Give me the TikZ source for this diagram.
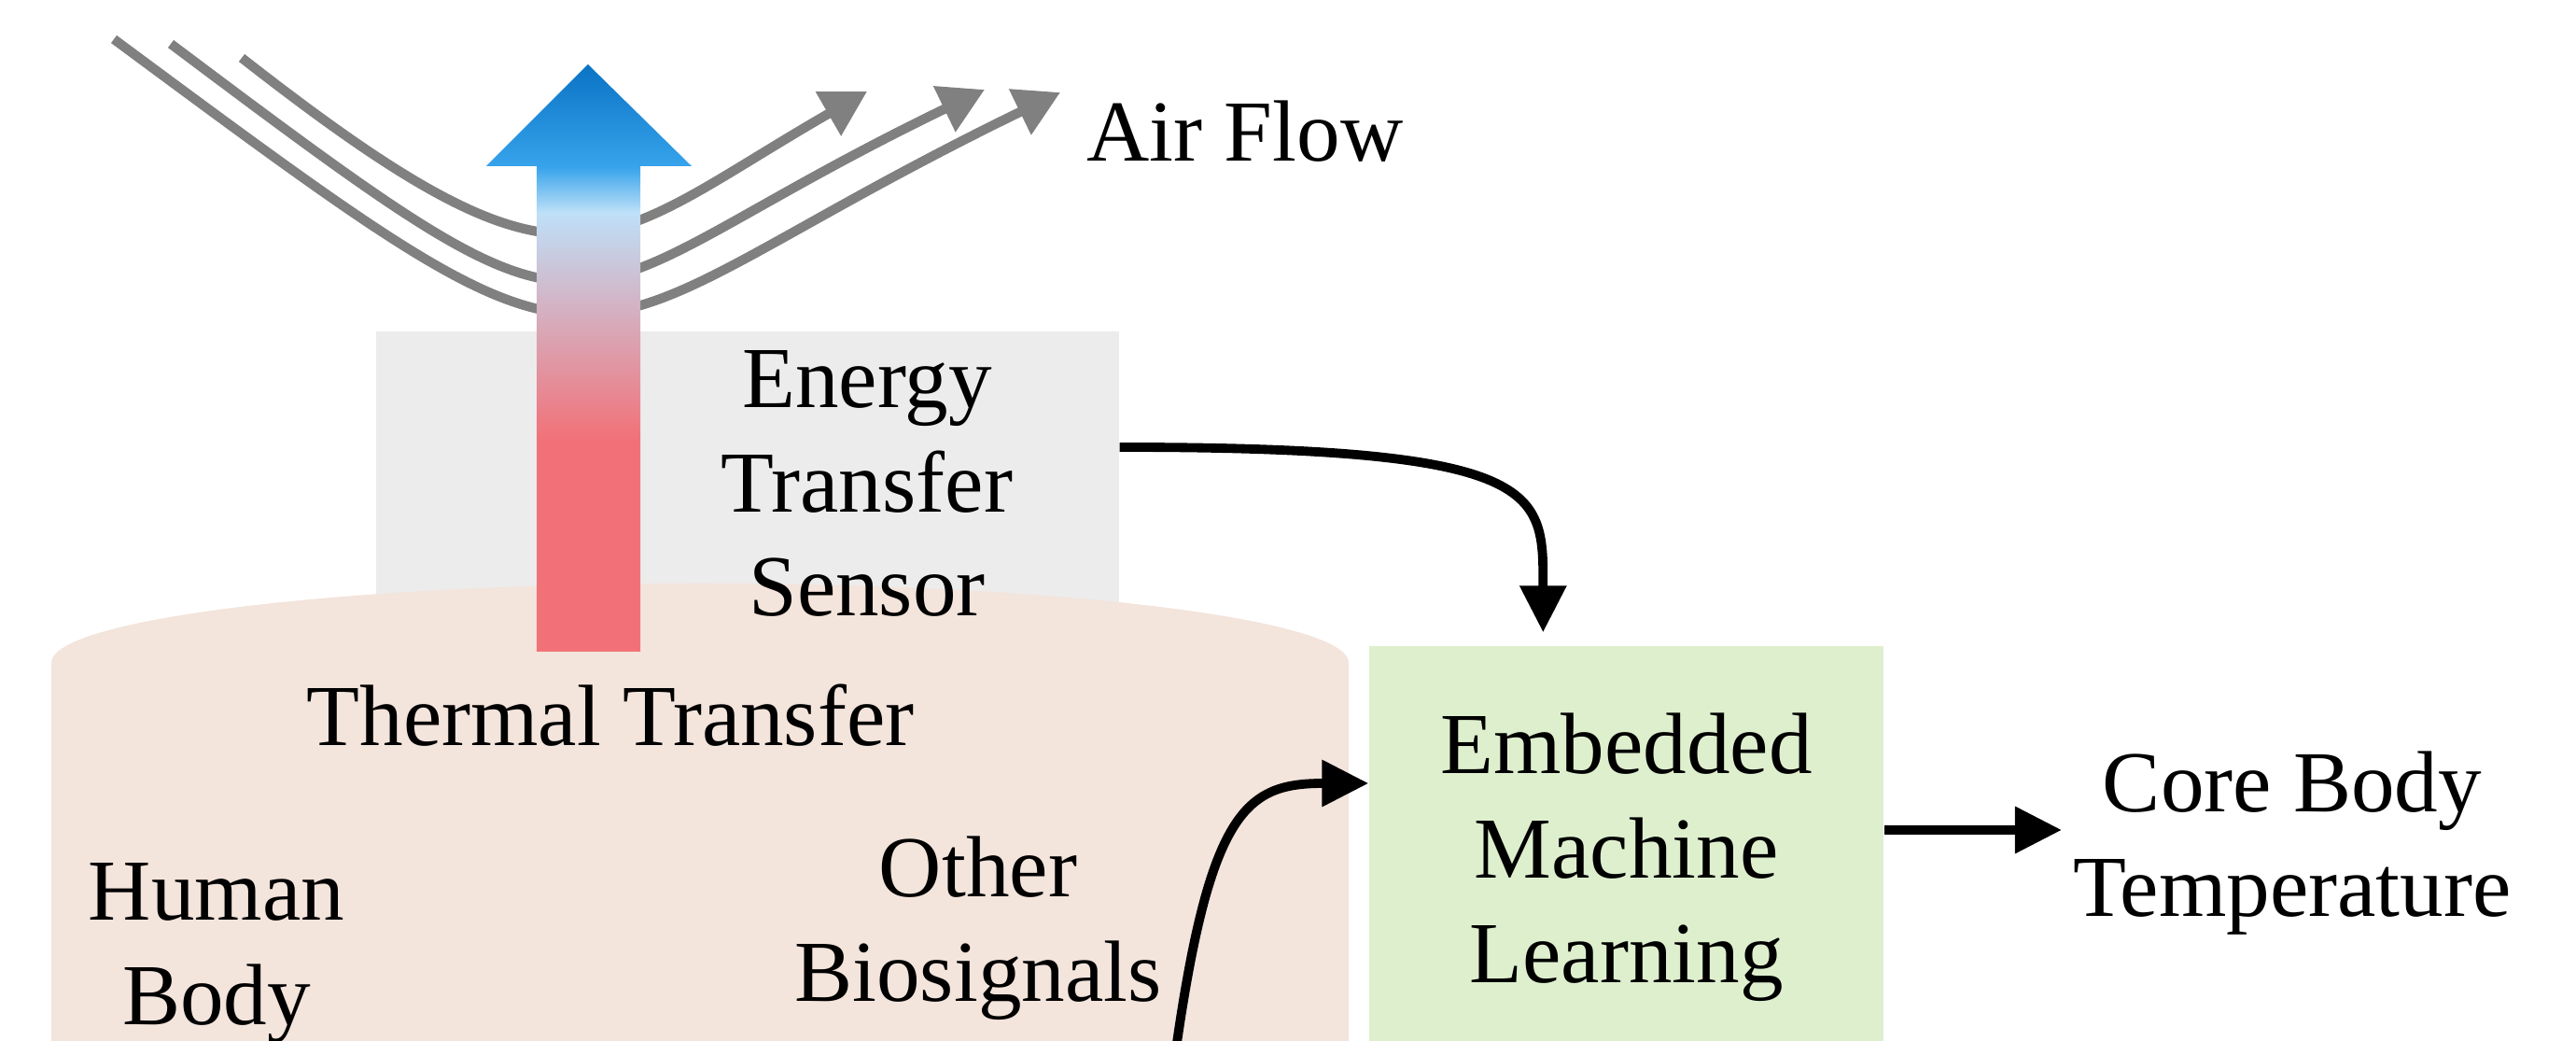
\documentclass[tikz,border=0pt]{standalone}
\usepackage{fontspec}
\setmainfont{Liberation Serif}
\usepackage{tikz}
\usetikzlibrary{arrows.meta,calc}

\definecolor{airgray}{HTML}{808080}
\definecolor{sensorgray}{HTML}{ECECEC}
\definecolor{skin}{HTML}{F3E4DC}
\definecolor{mlgreen}{HTML}{DEEFCE}
\definecolor{deepblue}{HTML}{0A73C5}
\definecolor{coolblue}{HTML}{36A3EB}
\definecolor{coolpale}{HTML}{BEE0F8}
\definecolor{heatred}{HTML}{F27178}

\pgfdeclareverticalshading{heatflow}{100bp}{color(0bp)=(heatred); color(43bp)=(heatred); color(62.4bp)=(coolpale); color(66.3bp)=(coolblue); color(75bp)=(deepblue); color(100bp)=(deepblue)}

\begin{document}
\begin{tikzpicture}[font=\fontsize{26.5}{31.8}\selectfont,
  airline/.style={color=airgray,line width=2.9pt,-{Triangle[length=4.8mm,width=5.2mm]}},
  flow/.style={line width=2.8pt,-{Triangle[length=5mm,width=4.8mm]}},
  lbl/.style={align=center}]
%frame
\useasboundingbox (0,0) rectangle (27.6,11.15);
\clip (0,0) rectangle (27.6,11.15);

%air flow
\coordinate (a1s) at (1.22,10.73);
\coordinate (a1e) at (11.36,10.16);
\coordinate (a2s) at (1.83,10.68);
\coordinate (a2e) at (10.55,10.19);
\coordinate (a3s) at (2.59,10.53);
\coordinate (a3e) at (9.29,10.17);
\draw[airline] (a1s) .. controls (7.00,6.45) and (5.70,7.41) .. (a1e);
\draw[airline] (a2s) .. controls (6.80,6.95) and (5.70,7.85) .. (a2e);
\draw[airline] (a3s) .. controls (6.18,7.72) and (6.39,8.50) .. (a3e);

%sensor and body
\node[fill=sensorgray,minimum width=7.96cm,minimum height=3.6cm,inner sep=0pt] (sensor) at (8.01,5.80) {};
\fill[skin] (0.55,-0.5) -- (0.55,4.05) arc[start angle=180,end angle=0,x radius=6.95,y radius=0.85] -- (14.45,-0.5) -- cycle;

%thermal arrow
\shade[shading=heatflow] (5.75,4.17) -- (5.75,9.37) -- (5.21,9.37) -- (6.30,10.46) -- (7.41,9.37) -- (6.86,9.37) -- (6.86,4.17) -- cycle;

\node[lbl] (air) at (13.34,9.74) {Air Flow};
\node[lbl] (sensortxt) at (9.29,5.97) {Energy\\Transfer\\Sensor};
\node[lbl] (thermal) at (6.54,3.49) {Thermal Transfer};
\node[lbl] (body) at (2.32,0.94) {Human\\Body};
\node[lbl] (bios) at (10.48,1.205) {Other\\Biosignals};
\node[lbl,fill=mlgreen,minimum width=5.51cm,minimum height=4.52cm,inner sep=0pt] (ML) at (17.425,1.97) {Embedded\\Machine\\Learning};
\node[lbl] (core) at (24.56,2.12) {Core Body\\Temperature};

%connections
\draw[flow] ([yshift=5.6mm]sensor.east) .. controls +(4.59,0) and +(0,1.51) .. ($(ML.north west)+(1.87,0.14)$);
\coordinate (biosrc) at (12.50,-0.85);
\draw[flow] (biosrc) .. controls +(0.40,3.30) and +(-1.37,0) .. ([yshift=7.9mm]ML.west);
\coordinate (mlout) at ([yshift=2.9mm]ML.east);
\draw[flow] (mlout) -- (mlout -| core.west);
\end{tikzpicture}
\end{document}
